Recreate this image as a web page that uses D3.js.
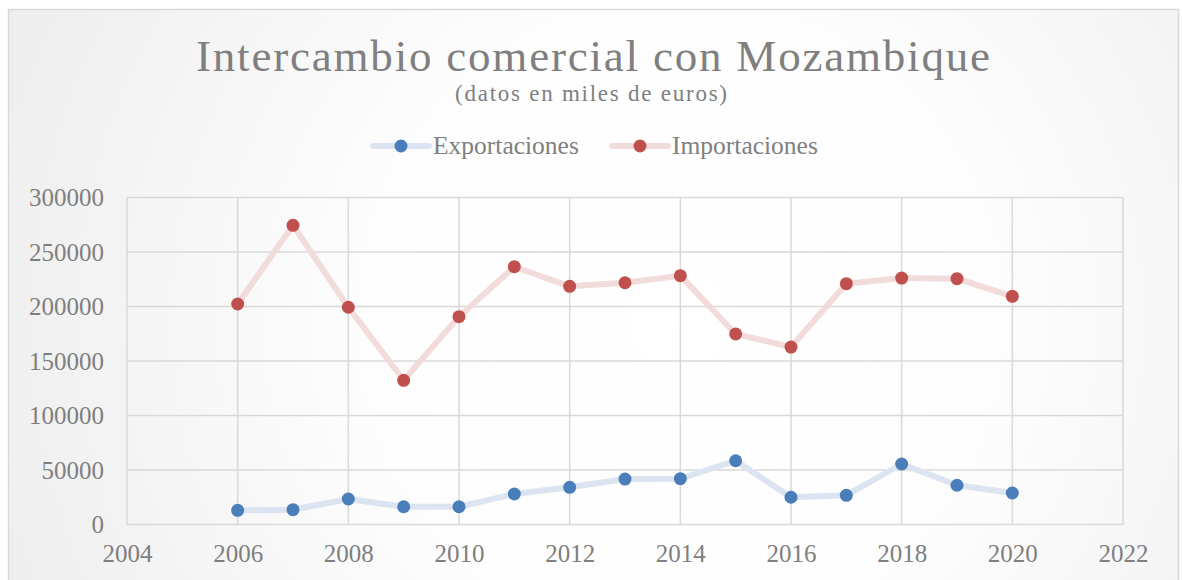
<!DOCTYPE html>
<html>
<head>
<meta charset="utf-8">
<script src="https://cdn.jsdelivr.net/npm/d3@7"></script>
<style>
  body { margin: 0; background: #fff; }
  text { font-family: "Liberation Serif", serif; fill: #7f7f7f; }
</style>
</head>
<body>
<div id="chart"></div>
<script>
// datos (miles de euros)
var years = [2006, 2007, 2008, 2009, 2010, 2011, 2012, 2013, 2014, 2015, 2016, 2017, 2018, 2019, 2020];
var exportaciones = [13000, 13600, 23400, 16300, 16300, 28000, 34100, 41700, 42000, 58500, 25000, 26800, 55500, 36000, 28900];
var importaciones = [202300, 274500, 199300, 132300, 190700, 236500, 218500, 221800, 228300, 174800, 162800, 220900, 226100, 225500, 209300];
var xTicks = [2004, 2006, 2008, 2010, 2012, 2014, 2016, 2018, 2020, 2022];
var yTicks = [0, 50000, 100000, 150000, 200000, 250000, 300000];

var width = 1182, height = 580;

var svg = d3.select("#chart").append("svg")
  .attr("width", width)
  .attr("height", height);

var defs = svg.append("defs");
var grad = defs.append("radialGradient")
  .attr("id", "bg")
  .attr("gradientUnits", "userSpaceOnUse")
  .attr("cx", 680).attr("cy", 320).attr("r", 720);
grad.append("stop").attr("offset", "0").attr("stop-color", "#ffffff");
grad.append("stop").attr("offset", "0.45").attr("stop-color", "#fdfdfd");
grad.append("stop").attr("offset", "1").attr("stop-color", "#eeeeee");

svg.append("rect")
  .attr("x", 8.5).attr("y", 9.5)
  .attr("width", 1170).attr("height", 600)
  .attr("fill", "url(#bg)")
  .attr("stroke", "#d9d9d9")
  .attr("stroke-width", 1.5);

var x = d3.scaleLinear().domain([2004, 2022]).range([127, 1123]);
var y = d3.scaleLinear().domain([0, 300000]).range([524.5, 197.5]);

// gridlines
svg.append("g")
  .selectAll("line.h")
  .data(yTicks)
  .enter().append("line")
  .attr("x1", x(2004)).attr("x2", x(2022))
  .attr("y1", d => y(d)).attr("y2", d => y(d))
  .attr("stroke", "#d9d9d9")
  .attr("stroke-width", 1.5);

svg.append("g")
  .selectAll("line.v")
  .data(xTicks)
  .enter().append("line")
  .attr("x1", d => x(d)).attr("x2", d => x(d))
  .attr("y1", y(300000)).attr("y2", y(0))
  .attr("stroke", "#d9d9d9")
  .attr("stroke-width", 1.5);

// axes labels
var yAxis = d3.axisLeft(y).tickValues(yTicks).tickSize(0).tickPadding(23).tickFormat(d3.format("d"));
var gy = svg.append("g").attr("transform", "translate(" + x(2004) + ",0)").call(yAxis);
gy.select(".domain").remove();
gy.selectAll("text").style("font-size", "25px").style("font-family", "Liberation Serif, serif").attr("fill", "#7f7f7f");

var xAxis = d3.axisBottom(x).tickValues(xTicks).tickSize(0).tickPadding(20).tickFormat(d3.format("d"));
var gx = svg.append("g").attr("transform", "translate(0," + y(0) + ")").call(xAxis);
gx.select(".domain").remove();
gx.selectAll("text").style("font-size", "25px").style("font-family", "Liberation Serif, serif").attr("fill", "#7f7f7f");

// series
var series = [
  { name: "Exportaciones", values: exportaciones, line: "#dbe4f0", dot: "#4a7ebb" },
  { name: "Importaciones", values: importaciones, line: "#f2dcdb", dot: "#c0504d" }
];

var line = d3.line()
  .x((d, i) => x(years[i]))
  .y(d => y(d));

series.forEach(function (s) {
  svg.append("path")
    .datum(s.values)
    .attr("d", line)
    .attr("fill", "none")
    .attr("stroke", s.line)
    .attr("stroke-width", 6)
    .attr("stroke-linejoin", "round");
  svg.append("g")
    .selectAll("circle")
    .data(s.values)
    .enter().append("circle")
    .attr("cx", (d, i) => x(years[i]))
    .attr("cy", d => y(d))
    .attr("r", 6.5)
    .attr("fill", s.dot);
});

// title
svg.append("text")
  .attr("x", 593).attr("y", 71)
  .attr("text-anchor", "middle")
  .attr("textLength", 794)
  .attr("lengthAdjust", "spacing")
  .style("font-size", "45px")
  .text("Intercambio comercial con Mozambique");

svg.append("text")
  .attr("x", 591).attr("y", 101)
  .attr("text-anchor", "middle")
  .attr("textLength", 272)
  .attr("lengthAdjust", "spacing")
  .style("font-size", "23px")
  .text("(datos en miles de euros)");

// legend
var legend = svg.append("g");
var legendX = [373, 612];
series.forEach(function (s, i) {
  var lg = legend.append("g").attr("transform", "translate(" + legendX[i] + ",146)");
  lg.append("line")
    .attr("x1", 0).attr("x2", 56)
    .attr("stroke", s.line).attr("stroke-width", 6)
    .attr("stroke-linecap", "round");
  lg.append("circle").attr("cx", 28).attr("r", 6.5).attr("fill", s.dot);
  lg.append("text")
    .attr("x", 60).attr("y", 8)
    .style("font-size", "25.5px")
    .text(s.name);
});
</script>
</body>
</html>
